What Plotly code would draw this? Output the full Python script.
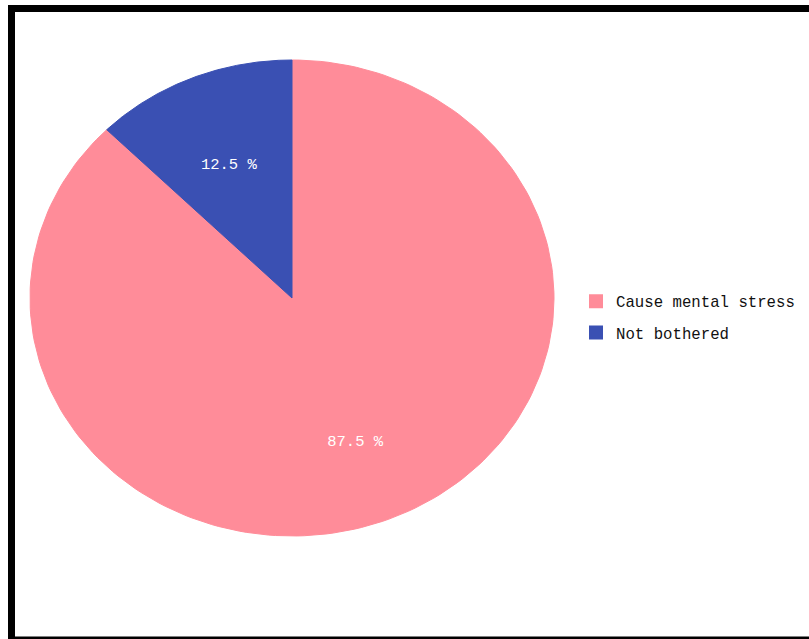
import numpy as np
import plotly.graph_objects as go

# Survey responses
labels = ["Cause mental stress", "Not bothered"]
values = [87.5, 12.5]
colors = ["#FF8C99", "#3A50B3"]

W, H = 809, 639
FONT = "Liberation Mono"

# Pie geometry in page pixels (slightly stretched horizontally)
CX, CY = 292, 298
RX, RY = 262, 238
LABEL_R = 0.63
LABEL_DY = 6

fig = go.Figure()

total = sum(values)
start = 0.0  # degrees clockwise from 12 o'clock
for lab, val, col in zip(labels, values, colors):
    sweep = 360.0 * val / total
    theta = np.radians(np.linspace(start, start + sweep, 200))
    xs = np.concatenate([[CX], CX + RX * np.sin(theta), [CX]])
    ys = np.concatenate([[CY], CY - RY * np.cos(theta), [CY]])
    fig.add_trace(go.Scatter(
        x=xs, y=ys, mode="lines", fill="toself",
        fillcolor=col, line=dict(color=col, width=1),
        hoveron="fills", name=lab, text=f"{lab}: {val:.1f} %",
        hoverinfo="text", showlegend=False,
    ))
    mid = np.radians(start + sweep / 2)
    fig.add_trace(go.Scatter(
        x=[CX + LABEL_R * RX * np.sin(mid)],
        y=[CY - LABEL_R * RY * np.cos(mid) + LABEL_DY],
        mode="text", text=[f"{val:.1f} %"],
        textfont=dict(family=FONT, size=15.5, color="white"),
        hoverinfo="skip", showlegend=False,
    ))
    start += sweep

# Legend entries (square swatches)
for i, (lab, col) in enumerate(zip(labels, colors)):
    fig.add_trace(go.Scatter(
        x=[None], y=[None], mode="markers", name=lab,
        marker=dict(symbol="square", size=14, color=col),
        legendgroup=f"g{i}", showlegend=True,
    ))

fig.update_layout(
    width=W,
    height=H,
    margin=dict(l=0, r=0, t=0, b=0),
    paper_bgcolor="white",
    plot_bgcolor="white",
    xaxis=dict(range=[0, W], visible=False, fixedrange=True),
    yaxis=dict(range=[H, 0], visible=False, fixedrange=True),
    font=dict(family=FONT, size=15.7, color="#111111"),
    legend=dict(
        x=576 / W, y=(H - 317) / H,
        xanchor="left", yanchor="middle",
        tracegroupgap=8,
        font=dict(family=FONT, size=15.7, color="#111111"),
        bgcolor="rgba(0,0,0,0)",
    ),
    shapes=[
        # dark frame around the page
        dict(type="rect", xref="paper", yref="paper",
             x0=11.5 / W, x1=830 / W, y0=(H - 640) / H, y1=(H - 8.5) / H,
             line=dict(color="black", width=7), fillcolor="rgba(0,0,0,0)",
             layer="above"),
    ],
)

fig.write_html("out.html")
